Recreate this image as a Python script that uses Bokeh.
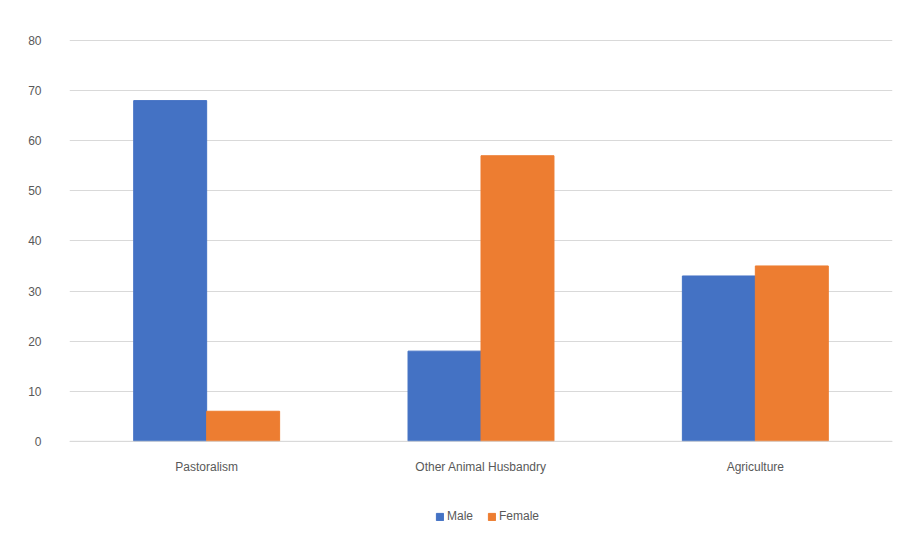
from bokeh.plotting import figure
from bokeh.models import ColumnDataSource, FactorRange, Legend, LegendItem, Range1d, Span
from bokeh.transform import dodge
from bokeh.core.properties import value
from bokeh.embed import file_html
from bokeh.resources import INLINE

categories = ["Pastoralism", "Other Animal Husbandry", "Agriculture"]
male = [68, 18, 33]
female = [6, 57, 35]

src = ColumnDataSource(dict(cat=categories, male=male, female=female, ly=[-5.2] * 3))
p = figure(x_range=FactorRange(*categories), y_range=Range1d(-18.0, 80.2), frame_width=823, frame_height=492,
           output_backend="svg", toolbar_location=None,
           min_border_left=69, min_border_right=8, min_border_top=39, min_border_bottom=5)
p.outline_line_color = None
w = 0.266
r1 = p.vbar(x=dodge("cat", -w/2, range=p.x_range), top="male", width=w, source=src, color="#4472C4")
r2 = p.vbar(x=dodge("cat", w/2, range=p.x_range), top="female", width=w, source=src, color="#ED7D31")
p.text(x="cat", y="ly", text="cat", source=src, text_align="center", text_baseline="middle",
       text_font=value("Liberation Sans"), text_font_size="12px", text_color="#595959")
p.add_layout(Span(location=0, dimension="width", line_color="#D9D9D9", line_width=1))
p.x_range.range_padding = 0
p.xaxis.visible = False
p.yaxis.ticker = list(range(0, 81, 10))
p.ygrid.grid_line_color = "#D9D9D9"
p.xgrid.grid_line_color = None
p.yaxis.axis_line_color = None
p.yaxis.major_tick_line_color = None
p.yaxis.minor_tick_line_color = None
p.yaxis.major_label_text_color = "#595959"
p.yaxis.major_label_text_font_size = "12px"
p.yaxis.major_label_text_font = "Liberation Sans"
p.yaxis.major_label_standoff = 22
leg = Legend(items=[LegendItem(label="Male", renderers=[r1]), LegendItem(label="Female", renderers=[r2])],
             orientation="horizontal", location=(366, 8), border_line_color=None, background_fill_alpha=0,
             label_text_font_size="12px", label_text_color="#595959", label_text_font="Liberation Sans",
             glyph_width=9, glyph_height=9, spacing=14, label_standoff=3, margin=0, padding=0)
p.add_layout(leg, "center")
open("out.html", "w").write(file_html(p, INLINE))
